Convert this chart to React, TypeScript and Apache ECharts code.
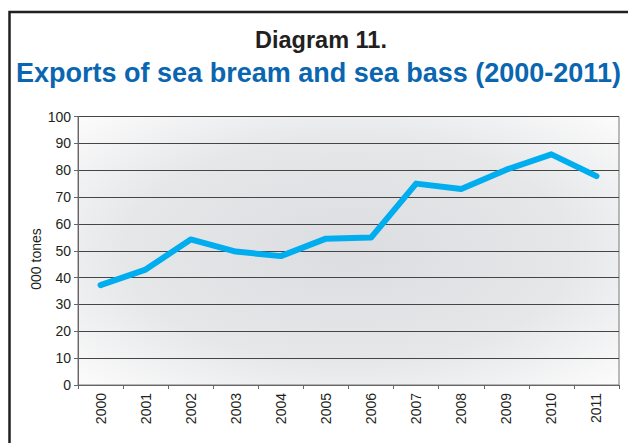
import React, { useEffect, useRef } from "react";
import * as echarts from "echarts";

// Exports of sea bream and sea bass, thousand tonnes
const years = ["2000", "2001", "2002", "2003", "2004", "2005", "2006", "2007", "2008", "2009", "2010", "2011"];
const exportsKt = [37.2, 43, 54.2, 49.7, 48, 54.5, 54.9, 75, 73, 80.2, 85.9, 77.8];

const heading = "Diagram 11.";
const subheading = "Exports of sea bream and sea bass (2000-2011)";
const yAxisName = "000 tones";

const sans = "'Liberation Sans', Arial, sans-serif";

export default function App() {
  const ref = useRef<HTMLDivElement>(null);

  useEffect(() => {
    if (!ref.current) return;
    const chart = echarts.init(ref.current, null, { renderer: "svg" });
    chart.setOption({
      animation: false,
      backgroundColor: "#ffffff",
      grid: {
        left: 78,
        right: 9,
        top: 116.5,
        bottom: 58,
        show: true,
        borderColor: "#777777",
        borderWidth: 1,
        backgroundColor: new echarts.graphic.RadialGradient(0.5, 0.5, 0.75, [
          { offset: 0, color: "#dcdde0" },
          { offset: 0.55, color: "#e6e7e9" },
          { offset: 1, color: "#ffffff" },
        ]),
      },
      graphic: [
        {
          type: "rect",
          shape: { x: 9.5, y: 12, width: 700, height: 600 },
          style: { fill: "none", stroke: "#231f20", lineWidth: 2.5 },
          silent: true,
        },
        {
          type: "text",
          x: 321,
          y: 39.5,
          style: {
            text: heading,
            fill: "#231f20",
            font: `bold 23.5px ${sans}`,
            align: "center",
            verticalAlign: "middle",
          },
        },
        {
          type: "text",
          x: 318.5,
          y: 73,
          style: {
            text: subheading,
            fill: "#0a66b0",
            font: `bold 27px ${sans}`,
            align: "center",
            verticalAlign: "middle",
          },
        },
        {
          type: "text",
          x: 36,
          y: 259,
          rotation: Math.PI / 2,
          style: {
            text: yAxisName,
            fill: "#231f20",
            font: `14px ${sans}`,
            align: "center",
            verticalAlign: "middle",
          },
        },
      ],
      xAxis: {
        type: "category",
        data: years,
        boundaryGap: true,
        axisLine: { show: true, lineStyle: { color: "#666666", width: 1 } },
        axisTick: { show: true, length: 4, lineStyle: { color: "#666666" } },
        axisLabel: {
          rotate: 90,
          margin: 8,
          color: "#231f20",
          fontFamily: sans,
          fontSize: 14,
        },
        splitLine: { show: false },
      },
      yAxis: {
        type: "value",
        min: 0,
        max: 100,
        interval: 10,
        axisLine: { show: true, lineStyle: { color: "#666666", width: 1 } },
        axisTick: { show: true, length: 4, lineStyle: { color: "#666666" } },
        axisLabel: { margin: 7, color: "#231f20", fontFamily: sans, fontSize: 14 },
        splitLine: { show: true, lineStyle: { color: "#454545", width: 1 } },
      },
      series: [
        {
          type: "line",
          data: exportsKt,
          showSymbol: false,
          symbol: "none",
          lineStyle: { color: "#00aeef", width: 6, cap: "round", join: "round" },
        },
      ],
    });
    return () => chart.dispose();
  }, []);

  return (
    <div
      ref={ref}
      style={{ position: "fixed", left: 0, top: 0, width: 628, height: 443 }}
    />
  );
}
